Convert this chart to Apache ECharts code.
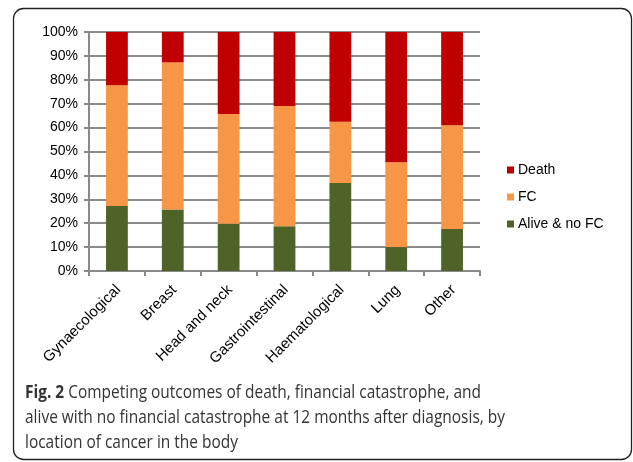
<!DOCTYPE html>
<html><head><meta charset="utf-8">
<script src="https://cdn.jsdelivr.net/npm/echarts@6/dist/echarts.min.js"></script>
<style>html,body{margin:0;padding:0;background:#fff}#c{width:633px;height:462px}</style>
</head><body><div id="c"></div>
<script>
const categories = ['Gynaecological','Breast','Head and neck','Gastrointestinal','Haematological','Lung','Other'];
const aliveNoFC = [27.2, 25.7, 19.8, 18.7, 36.8, 10.0, 17.6];
const fc = [50.5, 61.6, 45.9, 50.3, 25.7, 35.5, 43.4];
const death = [22.3, 12.7, 34.3, 31.0, 37.5, 54.5, 39.0];
const yTicks = [0,10,20,30,40,50,60,70,80,90,100];

const chart = echarts.init(document.getElementById('c'));
const font = 'Liberation Sans, Arial, sans-serif';
chart.setOption({
  animation:false,
  grid:{left:89,right:153,top:32,bottom:191,containLabel:false},
  legend:{
    orient:'vertical', left:502, top:158, itemWidth:7, itemHeight:7, itemGap:13,
    icon:'rect', data:['Death','FC','Alive & no FC'],
    textStyle:{fontFamily:font,fontSize:14,color:'#000',padding:[0,0,0,-1]}
  },
  xAxis:{type:'category',data:categories,
    axisLine:{lineStyle:{color:'#8a8a8a',width:2}},
    axisTick:{show:true,length:5,lineStyle:{color:'#8a8a8a',width:2}},
    axisLabel:{rotate:45,interval:0,fontFamily:font,fontSize:15,color:'#000',margin:18,padding:[0,-2,0,0]}
  },
  yAxis:{type:'value',min:0,max:100,interval:10,
    axisLine:{show:true,lineStyle:{color:'#8a8a8a',width:2}},
    axisTick:{show:true,length:5,lineStyle:{color:'#8a8a8a',width:2}},
    splitLine:{lineStyle:{color:'#8a8a8a',width:2}},
    axisLabel:{formatter: v => v + '%',fontFamily:font,fontSize:14,color:'#000',margin:11}
  },
  series:[
    {name:'Alive & no FC',type:'bar',stack:'s',data:aliveNoFC,barWidth:'39%',itemStyle:{color:'#4F6228'}},
    {name:'FC',type:'bar',stack:'s',data:fc,itemStyle:{color:'#F79646'}},
    {name:'Death',type:'bar',stack:'s',data:death,itemStyle:{color:'#C00000'}}
  ],
  graphic:[
    {type:'rect',shape:{x:13.5,y:8.5,width:618,height:451,r:10},style:{fill:'none',stroke:'#222',lineWidth:1.3},silent:true},
    {type:'text',x:25,y:380,scaleX:0.836,scaleY:1,style:{
      text:'{b|Fig. 2} Competing outcomes of death, financial catastrophe, and\nalive with no financial catastrophe at 12 months after diagnosis, by\nlocation of cancer in the body',
      fontFamily:'Open Sans, sans-serif',fontSize:18.5,lineHeight:25,fill:'#333',
      rich:{b:{fontFamily:'Open Sans, sans-serif',fontSize:18.5,fontWeight:'bold',fill:'#333',lineHeight:25}}
    }}
  ]
});
</script></body></html>
